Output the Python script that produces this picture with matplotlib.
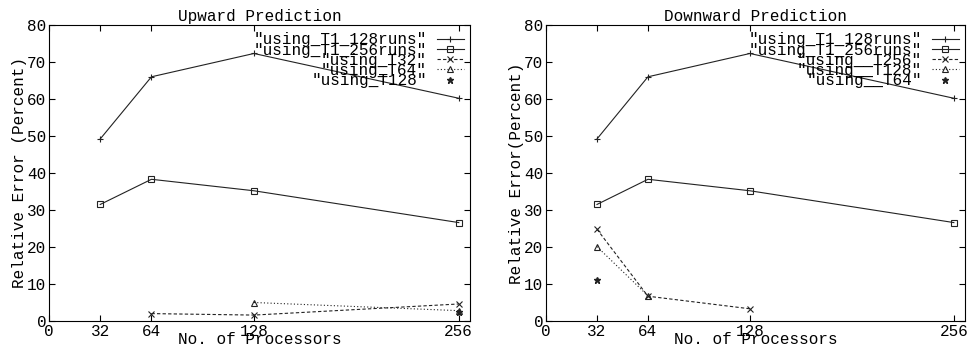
import matplotlib
matplotlib.use('Agg')
import matplotlib.pyplot as plt

# x positions (processors)
procs = [32, 64, 128, 256]
xticks = [0, 32, 64, 128, 256]
yticks = [0, 10, 20, 30, 40, 50, 60, 70, 80]

# shared series
t1_128runs = [49.2, 66.0, 72.3, 60.2]
t1_256runs = [31.5, 38.3, 35.2, 26.6]

# upward prediction
up_t32_x = [64, 128, 256]
up_t32_y = [2.0, 1.6, 4.6]
up_t64_x = [128, 256]
up_t64_y = [5.0, 2.8]
up_t128_x = [256]
up_t128_y = [2.5]

# downward prediction
down_t256_x = [32, 64, 128]
down_t256_y = [24.8, 6.7, 3.3]
down_t128_x = [32, 64]
down_t128_y = [20.1, 6.8]
down_t64_x = [32]
down_t64_y = [11.0]

FONT = 'Liberation Mono'
FS = 11.5
plt.rcParams['font.family'] = FONT
plt.rcParams['font.size'] = FS

fig = plt.figure(figsize=(9.7, 3.52), dpi=100)
ax1 = fig.add_axes([49/970, 1 - 321/352, 421/970, 296/352])
ax2 = fig.add_axes([546/970, 1 - 321/352, 419/970, 296/352])

lw = 0.8
col = '#222222'


def style(ax, title, ylabel):
    ax.set_xlim(0, 263)
    ax.set_ylim(0, 80)
    ax.set_xticks(xticks)
    ax.set_yticks(yticks)
    ax.tick_params(direction='in', top=True, right=True, length=4,
                   width=0.8, labelsize=FS, pad=2)
    for s in ax.spines.values():
        s.set_linewidth(0.8)
    ax.set_title(title, fontsize=FS, pad=3)
    ax.set_xlabel('No. of Processors', fontsize=FS, labelpad=-5)
    ax.set_ylabel(ylabel, fontsize=FS, labelpad=0)
    ax.legend(loc='upper right', bbox_to_anchor=(0.985, 0.975),
              markerfirst=False, frameon=False, labelspacing=-0.3,
              handlelength=1.7, handletextpad=0.6, borderaxespad=0,
              borderpad=0, prop={'family': FONT, 'size': FS})


# left panel
ax1.plot(procs, t1_128runs, color=col, lw=lw, marker='+', ms=5, mew=0.8,
         label='"using_T1_128runs"')
ax1.plot(procs, t1_256runs, color=col, lw=lw, marker='s', ms=4, mfc='none',
         mew=0.8, label='"using_T1_256runs"')
ax1.plot(up_t32_x, up_t32_y, color=col, lw=lw, ls=(0, (3, 2)), marker='x',
         ms=4, mew=0.8, label='"using_T32"')
ax1.plot(up_t64_x, up_t64_y, color=col, lw=lw, ls=(0, (1, 2)), marker='^',
         ms=4, mfc='none', mew=0.8, label='"using_T64"')
ax1.plot(up_t128_x, up_t128_y, color=col, lw=0, marker='*', ms=5,
         label='"using_T128"')
style(ax1, 'Upward Prediction', 'Relative Error (Percent)')

# right panel
ax2.plot(procs, t1_128runs, color=col, lw=lw, marker='+', ms=5, mew=0.8,
         label='"using_T1_128runs"')
ax2.plot(procs, t1_256runs, color=col, lw=lw, marker='s', ms=4, mfc='none',
         mew=0.8, label='"using_T1_256runs"')
ax2.plot(down_t256_x, down_t256_y, color=col, lw=lw, ls=(0, (3, 2)),
         marker='x', ms=4, mew=0.8, label='"using__T256"')
ax2.plot(down_t128_x, down_t128_y, color=col, lw=lw, ls=(0, (1, 2)),
         marker='^', ms=4, mfc='none', mew=0.8, label='"using__T128"')
ax2.plot(down_t64_x, down_t64_y, color=col, lw=0, marker='*', ms=5,
         label='"using__T64"')
style(ax2, 'Downward Prediction', 'Relative Error(Percent)')

fig.savefig('out.png', dpi=100)
